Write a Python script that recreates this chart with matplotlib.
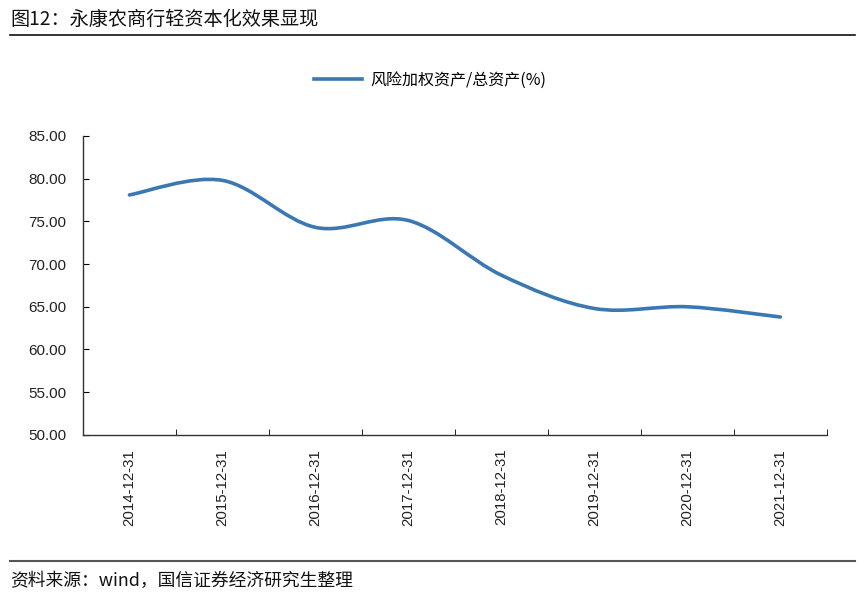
import numpy as np
import matplotlib
matplotlib.use("Agg")
import matplotlib.pyplot as plt
from matplotlib.path import Path
from matplotlib.patches import PathPatch
from matplotlib.lines import Line2D

plt.rcParams["font.family"] = ["Noto Sans CJK SC", "DejaVu Sans"]

DATES = ["2014-12-31", "2015-12-31", "2016-12-31", "2017-12-31",
         "2018-12-31", "2019-12-31", "2020-12-31", "2021-12-31"]
RWA_RATIO = [78.1, 79.8, 74.3, 75.1, 68.7, 64.8, 65.0, 63.8]
YTICKS = [50, 55, 60, 65, 70, 75, 80, 85]

TITLE = "图12：永康农商行轻资本化效果显现"
SERIES_NAME = "风险加权资产/总资产(%)"
SOURCE = "资料来源：wind，国信证券经济研究生整理"
LINE_COLOR = "#3b78b2"


def smooth_path(xs, ys, tension=1 / 6):
    # Catmull-Rom style bezier, like Excel's smoothed line
    verts = [(xs[0], ys[0])]
    codes = [Path.MOVETO]
    n = len(xs)
    for i in range(n - 1):
        x0, y0 = (xs[i - 1], ys[i - 1]) if i > 0 else (xs[i], ys[i])
        x1, y1 = xs[i], ys[i]
        x2, y2 = xs[i + 1], ys[i + 1]
        x3, y3 = (xs[i + 2], ys[i + 2]) if i + 2 < n else (x2, y2)
        c1 = (x1 + (x2 - x0) * tension, y1 + (y2 - y0) * tension)
        c2 = (x2 - (x3 - x1) * tension, y2 - (y3 - y1) * tension)
        verts += [c1, c2, (x2, y2)]
        codes += [Path.CURVE4] * 3
    return Path(verts, codes)


fig = plt.figure(figsize=(8.64, 5.99), dpi=100)
ax = fig.add_axes([0.096, 0.274, 0.861, 0.499])

x = np.arange(len(DATES))
patch = PathPatch(smooth_path(x, RWA_RATIO), facecolor="none",
                  edgecolor=LINE_COLOR, lw=2.6, capstyle="round")
ax.add_patch(patch)

ax.set_xlim(-0.5, len(DATES) - 0.5)
ax.set_ylim(50, 85)
ax.set_yticks(YTICKS)
ax.set_yticklabels([f"{v:.2f}" for v in YTICKS], family="Liberation Sans",
                   fontsize=11, color="#222222")
ax.set_xticks(x)
ax.set_xticklabels(DATES, rotation=90, family="Liberation Sans",
                   fontsize=10.8, color="#222222")
ax.set_xticks(np.arange(len(DATES) + 1) - 0.5, minor=True)
ax.tick_params(axis="x", which="major", length=0, pad=10)
ax.tick_params(axis="x", which="minor", direction="in", length=4)
ax.tick_params(axis="y", direction="in", length=4, pad=12)

for s in ["top", "right"]:
    ax.spines[s].set_visible(False)
for s in ["left", "bottom"]:
    ax.spines[s].set_color("#333333")
    ax.spines[s].set_linewidth(1)

handle = Line2D([], [], color=LINE_COLOR, lw=2.6)
fig.legend([handle], [SERIES_NAME], loc="center", bbox_to_anchor=(0.498, 0.866),
           frameon=False, handlelength=3.0, handletextpad=0.5,
           prop={"family": ["Noto Sans CJK SC", "DejaVu Sans"], "size": 11.5})

fig.text(0.012, 0.968, TITLE, fontsize=13.8, va="center", ha="left", color="#111111")
fig.add_artist(Line2D([0.012, 0.99], [0.941, 0.941], color="#111111", lw=1.2))
fig.add_artist(Line2D([0.012, 0.99], [0.063, 0.063], color="#555555", lw=1.5))
fig.text(0.012, 0.031, SOURCE, fontsize=12.8, va="center", ha="left", color="#111111")

fig.savefig("out.png", dpi=100)
